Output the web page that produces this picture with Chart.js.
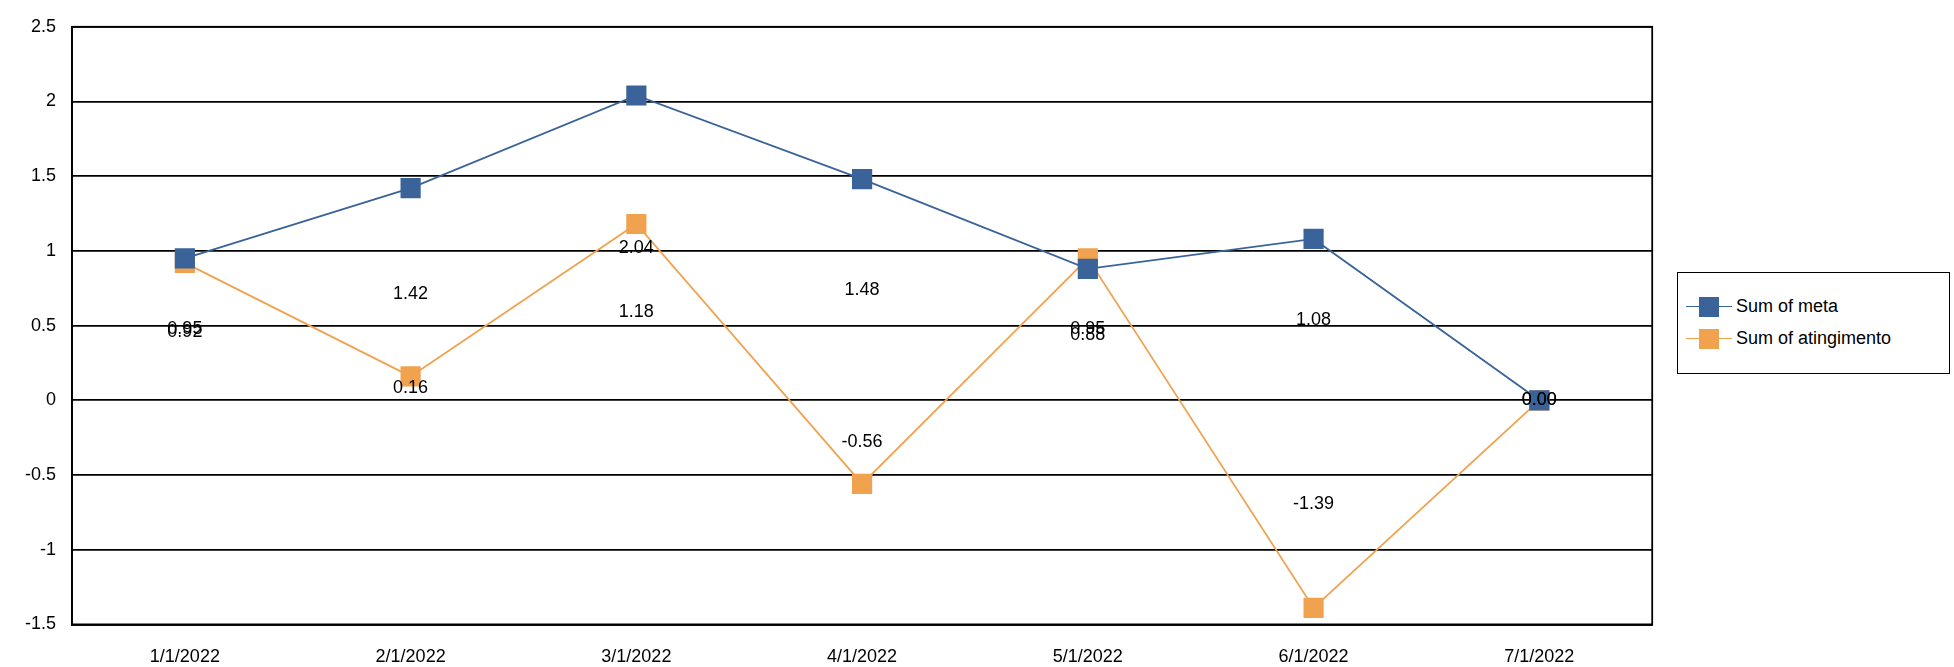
<!DOCTYPE html>
<html><head><meta charset="utf-8">
<script src="https://cdn.jsdelivr.net/npm/chart.js@4"></script>
<style>
html,body{margin:0;background:#fff;font-family:"Liberation Sans",Arial,sans-serif;overflow:hidden;height:667px}
#wrap{position:absolute;left:0;top:0;width:1667px;height:690px}
#legend{position:absolute;left:1677px;top:272px;width:273px;height:102px;border:1.5px solid #000;box-sizing:border-box;font-size:18px}
.li{position:absolute;left:8px;display:flex;align-items:center}
.sw{position:relative;width:46px;height:20px;margin-right:4px}
.sw i{position:absolute;left:0;right:0;top:9px;height:1.8px}
.sw b{position:absolute;left:13px;top:0;width:20px;height:20px}
</style></head><body>
<div id="wrap"><canvas id="c"></canvas></div>
<div id="legend">
 <div class="li" style="top:23px"><div class="sw"><i style="background:#3a6399"></i><b style="background:#3a6399"></b></div>Sum of meta</div>
 <div class="li" style="top:55px"><div class="sw"><i style="background:#f0a24f"></i><b style="background:#f0a24f"></b></div>Sum of atingimento</div>
</div>
<script>
const labels = ['1/1/2022','2/1/2022','3/1/2022','4/1/2022','5/1/2022','6/1/2022','7/1/2022'];
const meta = [0.95, 1.42, 2.04, 1.48, 0.88, 1.08, 0.00];
const atingimento = [0.92, 0.16, 1.18, -0.56, 0.95, -1.39, 0.00];

// labels drawn at half the value, like the original
const halfLabels = {
  id: 'halfLabels',
  afterDatasetsDraw(chart) {
    const ctx = chart.ctx, y = chart.scales.y;
    ctx.save();
    ctx.font = '18px "Liberation Sans", Arial';
    ctx.fillStyle = '#000';
    ctx.textAlign = 'center';
    ctx.textBaseline = 'middle';
    chart.data.datasets.forEach((ds, i) => {
      chart.getDatasetMeta(i).data.forEach((pt, j) => {
        const v = ds.data[j];
        ctx.fillText(v.toFixed(2), pt.x, y.getPixelForValue(v / 2));
      });
    });
    ctx.restore();
  }
};

new Chart(document.getElementById('c'), {
  type: 'line',
  data: {
    labels: labels,
    datasets: [
      { label: 'Sum of meta', data: meta, borderColor: '#3a6399', backgroundColor: '#3a6399',
        borderWidth: 1.8, pointStyle: 'rect', pointRadius: 13, pointHoverRadius: 13 },
      { label: 'Sum of atingimento', data: atingimento, borderColor: '#f0a24f', backgroundColor: '#f0a24f',
        borderWidth: 1.8, pointStyle: 'rect', pointRadius: 13, pointHoverRadius: 13 }
    ]
  },
  options: {
    responsive: true,
    maintainAspectRatio: false,
    animation: false,
    layout: { padding: { top: 11, right: 2, left: 0, bottom: 0 } },
    scales: {
      x: {
        offset: true,
        grid: { display: false, drawTicks: false },
        border: { color: '#000', width: 1.8 },
        ticks: { color: '#000', font: { size: 18, family: 'Liberation Sans' }, padding: 22 }
      },
      y: {
        min: -1.5, max: 2.5,
        afterFit(s) { s.width = 72; },
        ticks: { stepSize: 0.5, color: '#000', font: { size: 18, family: 'Liberation Sans' }, padding: 16,
          callback: v => String(v) },
        grid: { color: '#000', lineWidth: 1.8, drawTicks: false },
        border: { color: '#000', width: 1.8 }
      }
    },
    plugins: { legend: { display: false }, tooltip: { enabled: false } }
  },
  plugins: [halfLabels, {
    id: 'frame',
    afterDraw(chart) {
      const a = chart.chartArea, ctx = chart.ctx;
      ctx.save(); ctx.strokeStyle = '#000'; ctx.lineWidth = 1.8;
      ctx.strokeRect(a.left, a.top, a.right - a.left, a.bottom - a.top);
      ctx.restore();
    }
  }]
});
</script>
</body></html>
